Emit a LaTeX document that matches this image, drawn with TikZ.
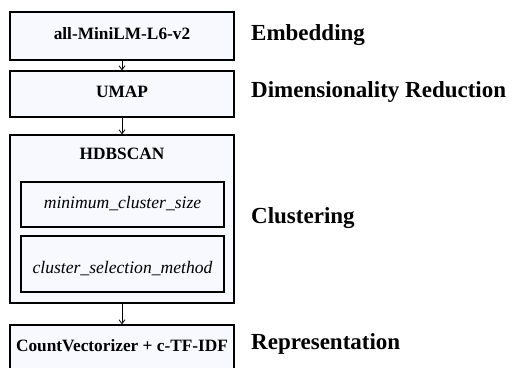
\documentclass[tikz,border=0pt]{standalone}
\usepackage{fontspec}
\setmainfont{Liberation Serif}
\usetikzlibrary{arrows.meta}
\definecolor{boxfill}{HTML}{F8F8FF}
\tikzset{
  box/.style={draw=black, line width=1.3pt, fill=boxfill, inner sep=0pt, rectangle},
  boxtext/.style={font=\fontsize{17.3}{20}\selectfont\bfseries, anchor=base, inner sep=0pt},
  paramtext/.style={font=\fontsize{17.6}{20}\selectfont\itshape, anchor=base, inner sep=0pt},
  steplabel/.style={font=\fontsize{23}{26}\selectfont\bfseries, anchor=base west, inner sep=0pt},
  flow/.style={draw=black, line width=0.8pt, -{Straight Barb[length=4pt,width=6pt]}}
}
\begin{document}
\begin{tikzpicture}[x=1pt,y=-1pt]
\useasboundingbox (0,0) rectangle (519,367);
% boxes
\node[box, minimum width=224pt, minimum height=48pt] (b1) at (122,36) {};
\node[box, minimum width=224pt, minimum height=46pt] (b2) at (122,94) {};
\node[box, minimum width=224pt, minimum height=168pt] (b3) at (122,219) {};
\node[box, minimum width=203pt, minimum height=45pt] (p1) at (122.5,204.5) {};
\node[box, minimum width=203pt, minimum height=56pt] (p2) at (122.5,264) {};
\node[box, minimum width=224pt, minimum height=56pt] (b4) at (122,353) {};
% texts
\node[boxtext] (t1) at (122,39) {all-MiniLM-L6-v2};
\node[boxtext] (t2) at (122,97) {UMAP};
\node[boxtext] (t3) at (122,159) {HDBSCAN};
\node[paramtext] (t4) at (122.5,208) {minimum\_cluster\_size};
\node[paramtext] (t5) at (122.5,273) {cluster\_selection\_method};
\node[boxtext] (t6) at (122,351) {CountVectorizer + c-TF-IDF};
% labels
\node[steplabel] (l1) at (251,40) {Embedding};
\node[steplabel] (l2) at (251,97) {Dimensionality Reduction};
\node[steplabel] (l3) at (251,223) {Clustering};
\node[steplabel] (l4) at (251,349) {Representation};
% arrows
\draw[flow] (b1.south) -- (b2.north);
\draw[flow] (b2.south) -- (b3.north);
\draw[flow] (b3.south) -- (b4.north);
\end{tikzpicture}
\end{document}
